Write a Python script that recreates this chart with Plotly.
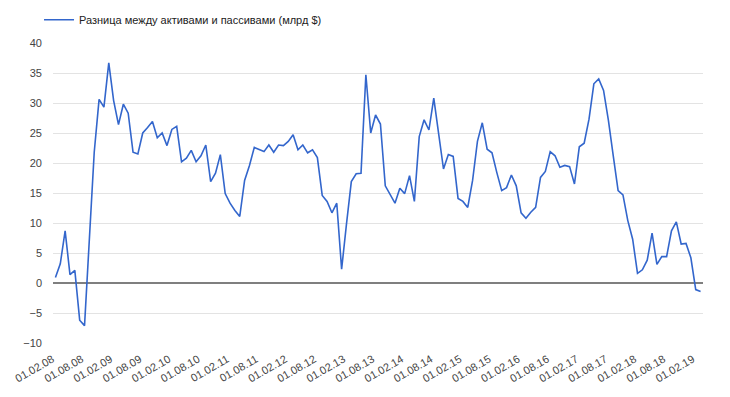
import plotly.graph_objects as go

# Monthly data, Feb 2008 .. Mar 2019
start_year = 2008
start_month = 2
values = [
    0.9, 3.2, 8.7, 1.4, 2.1, -6.2, -7.1, 7.4, 21.8, 30.6, 29.3, 36.7,
    30.4, 26.4, 29.8, 28.3, 21.8, 21.5, 25.0, 25.9, 26.9, 24.2, 25.0, 22.9,
    25.6, 26.1, 20.2, 20.8, 22.1, 20.2, 21.2, 23.0, 16.9, 18.3, 21.4, 14.9,
    13.3, 12.1, 11.1, 17.1, 19.6, 22.6, 22.3, 21.9, 23.0, 21.8, 23.0, 22.9,
    23.6, 24.7, 22.2, 23.0, 21.7, 22.2, 20.9, 14.6, 13.6, 11.7, 13.3, 2.3,
    9.8, 16.9, 18.2, 18.3, 34.7, 25.0, 28.0, 26.5, 16.2, 14.7, 13.3, 15.8,
    14.9, 17.9, 13.6, 24.4, 27.2, 25.5, 30.8, 24.9, 19.0, 21.4, 21.1, 14.1,
    13.6, 12.6, 17.1, 23.6, 26.7, 22.3, 21.7, 18.4, 15.4, 15.9, 18.0, 16.2,
    11.7, 10.8, 11.8, 12.6, 17.6, 18.6, 21.9, 21.2, 19.3, 19.6, 19.4, 16.5,
    22.7, 23.3, 27.3, 33.2, 34.0, 32.1, 27.1, 21.2, 15.4, 14.7, 10.4, 7.3,
    1.6, 2.2, 3.8, 8.3, 3.1, 4.4, 4.4, 8.7, 10.2, 6.5, 6.6, 4.2,
    -1.1, -1.4,
]
series_name = "Разница между активами и пассивами (млрд $)"

categories = []
for k in range(len(values)):
    m = start_month - 1 + k
    y = start_year + m // 12
    mo = m % 12 + 1
    categories.append(f"01.{mo:02d}.{y % 100:02d}")

tick_idx = list(range(0, len(values), 6))
tick_text = [categories[i] for i in tick_idx]
y_ticks = [-10, -5, 0, 5, 10, 15, 20, 25, 30, 35, 40]

FONT = "Arial, 'Liberation Sans', sans-serif"

# the page body has an 8px default margin, so the figure is sized to fit
FIG_W, FIG_H = 722, 389

fig = go.Figure()
fig.add_trace(go.Scatter(
    x=list(range(len(values))),
    y=values,
    mode="lines",
    name=series_name,
    line=dict(color="#3366cc", width=1.6),
    showlegend=True,
))

fig.update_layout(
    width=FIG_W,
    height=FIG_H,
    margin=dict(l=45, r=27, t=35, b=54, autoexpand=False),
    paper_bgcolor="white",
    plot_bgcolor="white",
    font=dict(family=FONT, size=11, color="#222222"),
    showlegend=True,
    legend=dict(
        orientation="h",
        xref="paper", yref="container",
        x=-0.0215, y=1 - 11.7 / FIG_H, xanchor="left", yanchor="middle",
        itemwidth=30,
        font=dict(family=FONT, size=11, color="#222222"),
        bgcolor="rgba(0,0,0,0)",
    ),
    xaxis=dict(
        range=[-0.5, len(values) - 0.5],
        tickmode="array",
        tickvals=tick_idx,
        ticktext=tick_text,
        tickangle=-30,
        showgrid=False,
        zeroline=False,
        showline=False,
        ticks="",
        ticklabelstandoff=7,
        ticklabelshift=-3,
        tickfont=dict(family=FONT, size=11, color="#444444"),
    ),
    yaxis=dict(
        range=[-10, 40],
        tickmode="array",
        tickvals=y_ticks,
        showgrid=True,
        gridcolor="#e3e3e3",
        gridwidth=1,
        zeroline=True,
        zerolinecolor="#7f7f7f",
        zerolinewidth=1.5,
        showline=False,
        ticks="",
        ticklabelstandoff=10,
        tickfont=dict(family=FONT, size=11, color="#444444"),
    ),
)

fig.write_html("out.html")
